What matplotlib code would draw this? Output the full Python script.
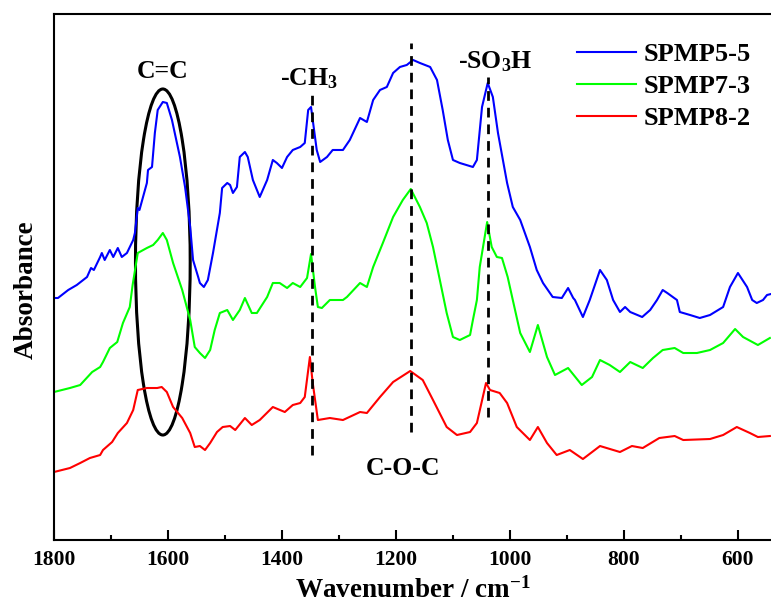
import matplotlib
matplotlib.use("Agg")
import matplotlib.pyplot as plt
from matplotlib.patches import Ellipse

plt.rcParams["font.family"] = ["Liberation Serif", "DejaVu Serif"]
plt.rcParams["font.weight"] = "bold"
plt.rcParams["mathtext.fontset"] = "custom"
plt.rcParams["mathtext.rm"] = "Liberation Serif:bold"
plt.rcParams["mathtext.bf"] = "Liberation Serif:bold"
plt.rcParams["mathtext.it"] = "Liberation Serif:bold"

# FTIR spectra (wavenumber in cm-1, absorbance in arbitrary offset units)
wn_5_5 = [1800, 1793, 1775, 1760, 1742, 1735, 1730, 1719, 1716, 1711, 1702, 1696, 1688, 1681,
          1672, 1661, 1658, 1653, 1650, 1637, 1635, 1628, 1623, 1618, 1609, 1602, 1593, 1579,
          1570, 1561, 1556, 1547, 1544, 1537, 1530, 1521, 1509, 1505, 1496, 1491, 1486, 1479,
          1474, 1465, 1460, 1451, 1439, 1426, 1416, 1409, 1400, 1391, 1381, 1368, 1360, 1354,
          1349, 1346, 1339, 1333, 1321, 1311, 1293, 1281, 1263, 1251, 1240, 1228, 1216, 1205,
          1193, 1181, 1170, 1158, 1140, 1128, 1118, 1109, 1100, 1088, 1065, 1058, 1049, 1039,
          1030, 1021, 1005, 995, 982, 965, 953, 942, 925, 909, 898, 889, 886, 872, 860, 842,
          830, 819, 807, 798, 789, 768, 754, 742, 732, 724, 707, 702, 684, 667, 649, 626, 614,
          600, 584, 575, 567, 556, 549, 542]
abs_5_5 = [2.42, 2.42, 2.50, 2.55, 2.63, 2.72, 2.70, 2.83, 2.87, 2.80, 2.90, 2.83, 2.92, 2.83,
           2.87, 3.00, 3.07, 3.32, 3.30, 3.57, 3.70, 3.73, 4.07, 4.30, 4.38, 4.37, 4.20, 3.83,
           3.53, 3.13, 2.80, 2.63, 2.57, 2.53, 2.60, 2.87, 3.27, 3.52, 3.57, 3.55, 3.47, 3.53,
           3.83, 3.88, 3.83, 3.60, 3.43, 3.60, 3.80, 3.77, 3.72, 3.83, 3.90, 3.93, 3.97, 4.30,
           4.33, 4.20, 3.90, 3.78, 3.83, 3.90, 3.90, 4.00, 4.22, 4.18, 4.40, 4.50, 4.53, 4.67,
           4.73, 4.75, 4.80, 4.77, 4.73, 4.60, 4.30, 4.00, 3.80, 3.77, 3.73, 3.80, 4.33, 4.57,
           4.43, 4.07, 3.57, 3.33, 3.20, 2.93, 2.70, 2.57, 2.43, 2.42, 2.52, 2.42, 2.40, 2.23,
           2.40, 2.70, 2.60, 2.40, 2.28, 2.33, 2.28, 2.23, 2.30, 2.40, 2.50, 2.47, 2.40, 2.28,
           2.25, 2.22, 2.25, 2.33, 2.53, 2.67, 2.53, 2.40, 2.37, 2.40, 2.45, 2.46]

wn_7_3 = [1800, 1772, 1754, 1733, 1719, 1714, 1702, 1689, 1679, 1667, 1662, 1653, 1637, 1626,
          1618, 1609, 1602, 1591, 1575, 1561, 1553, 1544, 1535, 1526, 1518, 1509, 1496, 1486,
          1474, 1465, 1453, 1444, 1426, 1416, 1404, 1391, 1381, 1368, 1356, 1349, 1342, 1337,
          1330, 1316, 1293, 1286, 1263, 1251, 1240, 1223, 1205, 1188, 1174, 1158, 1146, 1135,
          1123, 1111, 1100, 1088, 1070, 1065, 1058, 1053, 1040, 1032, 1023, 1014, 1004, 995,
          982, 965, 951, 935, 921, 898, 874, 856, 842, 825, 807, 789, 767, 749, 732, 711, 696,
          672, 649, 626, 605, 591, 565, 544]
abs_7_3 = [1.48, 1.52, 1.55, 1.68, 1.73, 1.78, 1.92, 1.98, 2.17, 2.33, 2.55, 2.87, 2.92, 2.95,
           3.00, 3.07, 3.00, 2.77, 2.50, 2.20, 1.93, 1.87, 1.82, 1.90, 2.10, 2.27, 2.30, 2.20,
           2.30, 2.42, 2.27, 2.27, 2.43, 2.57, 2.57, 2.52, 2.57, 2.53, 2.62, 2.86, 2.53, 2.33,
           2.32, 2.40, 2.40, 2.43, 2.57, 2.53, 2.73, 2.97, 3.23, 3.40, 3.51, 3.33, 3.17, 2.93,
           2.60, 2.27, 2.03, 2.00, 2.05, 2.20, 2.40, 2.73, 3.18, 2.93, 2.83, 2.82, 2.63, 2.40,
           2.07, 1.88, 2.15, 1.83, 1.65, 1.72, 1.55, 1.63, 1.80, 1.75, 1.68, 1.78, 1.72, 1.82,
           1.90, 1.92, 1.87, 1.87, 1.90, 1.97, 2.11, 2.03, 1.95, 2.02]

wn_8_2 = [1800, 1772, 1754, 1737, 1719, 1714, 1698, 1688, 1672, 1661, 1653, 1637, 1619, 1611,
          1602, 1591, 1575, 1561, 1553, 1544, 1535, 1526, 1514, 1504, 1491, 1482, 1465, 1453,
          1439, 1416, 1395, 1381, 1368, 1360, 1351, 1346, 1337, 1316, 1293, 1263, 1251, 1228,
          1205, 1175, 1153, 1135, 1111, 1093, 1070, 1058, 1042, 1035, 1018, 1005, 988, 965,
          951, 935, 918, 895, 872, 842, 807, 786, 767, 738, 711, 696, 649, 626, 602, 579, 565,
          544]
abs_8_2 = [0.68, 0.72, 0.77, 0.82, 0.85, 0.90, 0.98, 1.07, 1.17, 1.30, 1.50, 1.52, 1.52, 1.53,
           1.48, 1.33, 1.22, 1.07, 0.93, 0.94, 0.90, 0.97, 1.08, 1.13, 1.14, 1.10, 1.22, 1.15,
           1.20, 1.33, 1.28, 1.35, 1.37, 1.43, 1.83, 1.57, 1.20, 1.22, 1.20, 1.28, 1.27, 1.43,
           1.58, 1.69, 1.60, 1.40, 1.13, 1.05, 1.08, 1.17, 1.57, 1.50, 1.47, 1.37, 1.13, 1.00,
           1.13, 0.97, 0.85, 0.90, 0.81, 0.94, 0.88, 0.94, 0.92, 1.02, 1.04, 1.00, 1.01, 1.05,
           1.13, 1.07, 1.03, 1.04]

series_labels = ["SPMP5-5", "SPMP7-3", "SPMP8-2"]
series_colors = ["#0000FF", "#00FF00", "#FF0000"]
x_ticks = [1800, 1600, 1400, 1200, 1000, 800, 600]

fig = plt.figure(figsize=(7.71, 6.05), dpi=100)
ax = fig.add_axes([0.070, 0.1074, 0.930, 0.8695])

for wn, ab, lab, col in zip([wn_5_5, wn_7_3, wn_8_2], [abs_5_5, abs_7_3, abs_8_2],
                            series_labels, series_colors):
    ax.plot(wn, ab, color=col, lw=1.5, label=lab)

# Band markers
band_lines = [(1348, 0.85, 4.50), (1174, 1.08, 4.97), (1038, 1.23, 4.63)]
for x, y0, y1 in band_lines:
    ax.plot([x, x], [y0, y1], color="black", lw=2.0, ls=(0, (3.5, 2.5)))

ax.add_patch(Ellipse((1609, 2.78), width=96, height=3.46, fill=False,
                     edgecolor="black", lw=2.2))

ax.text(1609, 4.68, "C=C", ha="center", va="center", fontsize=18.5, fontweight="bold")
ax.text(1404, 4.55, "-CH$_3$", ha="left", va="baseline", fontsize=18.5, fontweight="bold")
ax.text(1091, 4.72, "-SO$_3$H", ha="left", va="baseline", fontsize=18.5, fontweight="bold")
ax.text(1188, 0.65, "C-O-C", ha="center", va="baseline", fontsize=18.5, fontweight="bold")

ax.set_xlim(1800, 542)
ax.set_ylim(0, 5.26)
ax.set_xticks(x_ticks)
ax.set_xticks(range(1700, 540, -200), minor=True)
ax.set_yticks([])
ax.tick_params(axis="x", which="major", direction="in", length=7, width=1.5,
               labelsize=15.5, pad=7)
ax.tick_params(axis="x", which="minor", direction="in", length=3.5, width=1.5)
for lbl in ax.get_xticklabels():
    lbl.set_fontweight("bold")

for side in ["left", "bottom", "top"]:
    ax.spines[side].set_linewidth(1.5)
ax.spines["right"].set_visible(False)

ax.set_xlabel("Wavenumber / cm$^{-1}$", fontsize=19.5, fontweight="bold", labelpad=5)
ax.set_ylabel("Absorbance", fontsize=19.5, fontweight="bold")
ax.yaxis.set_label_coords(-0.021, 0.475)

ax.legend(loc="upper left", bbox_to_anchor=(0.729, 0.946), frameon=False,
          prop={"family": "Liberation Serif", "weight": "bold", "size": 19},
          handlelength=2.25, handletextpad=0.3, labelspacing=0.33,
          borderpad=0, borderaxespad=0)

fig.savefig("out.png", dpi=100)
